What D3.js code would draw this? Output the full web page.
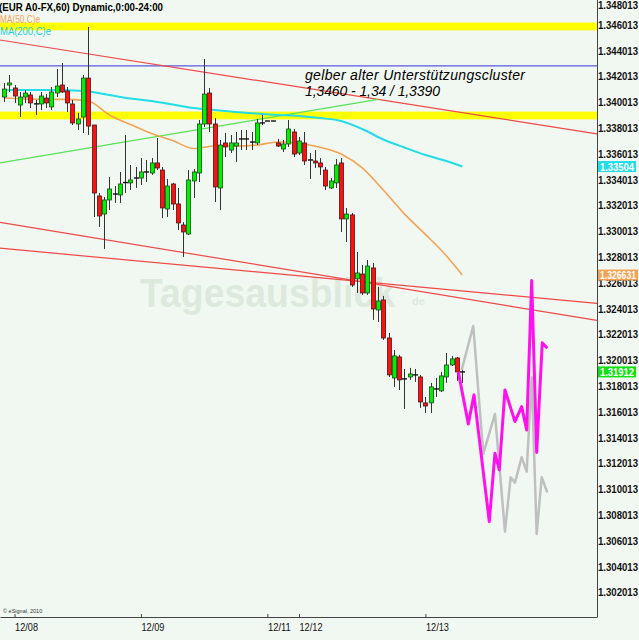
<!DOCTYPE html>
<html>
<head>
<meta charset="utf-8">
<script src="https://cdn.jsdelivr.net/npm/d3@7"></script>
<style>
  body { margin: 0; background: #f1f8f1; }
  svg { display: block; font-family: "Liberation Sans", Arial, sans-serif; }
</style>
</head>
<body>
<svg id="chart" width="639" height="640"></svg>
<script>
// hourly candles, [open, high, low, close]
const candles = [
  [1.34043,1.34152,1.34004,1.34105],[1.34136,1.34214,1.34082,1.34152],[1.34113,1.34136,1.33997,1.34051],
  [1.33981,1.34082,1.33888,1.34043],[1.34043,1.34097,1.33997,1.34074],[1.34059,1.34082,1.33958,1.33997],
  [1.33990,1.34020,1.33904,1.33990],[1.33989,1.34082,1.33942,1.34051],[1.34035,1.34066,1.33958,1.33997],
  [1.33966,1.34121,1.33942,1.34082],[1.34074,1.34260,1.34043,1.34128],[1.34136,1.34307,1.34074,1.34082],
  [1.34090,1.34121,1.33927,1.33997],[1.33989,1.34020,1.33826,1.33842],[1.33834,1.33919,1.33787,1.33873],
  [1.33888,1.34214,1.33764,1.34190],[1.34190,1.34586,1.33749,1.33818],[1.33826,1.33826,1.33113,1.33299],
  [1.33276,1.33299,1.33036,1.33121],[1.33136,1.33268,1.32865,1.33245],[1.33245,1.33423,1.33167,1.33330],
  [1.33291,1.33353,1.33222,1.33291],[1.33284,1.33462,1.33222,1.33369],[1.33380,1.33749,1.33299,1.33380],
  [1.33377,1.33516,1.33322,1.33400],[1.33415,1.33501,1.33338,1.33415],[1.33415,1.33570,1.33361,1.33462],
  [1.33462,1.33555,1.33384,1.33462],[1.33454,1.33570,1.33439,1.33532],[1.33532,1.33725,1.33477,1.33493],
  [1.33477,1.33501,1.33105,1.33183],[1.33175,1.33408,1.33113,1.33353],[1.33369,1.33377,1.33167,1.33214],
  [1.33214,1.33338,1.33012,1.33067],[1.33051,1.33074,1.32803,1.32997],[1.32981,1.33477,1.32974,1.33400],
  [1.33392,1.33485,1.33260,1.33462],[1.33454,1.33865,1.33384,1.33834],[1.33834,1.34338,1.33811,1.34066],
  [1.34074,1.34113,1.33772,1.33834],[1.33834,1.33880,1.33229,1.33346],[1.33338,1.33710,1.33167,1.33671],
  [1.33687,1.33764,1.33578,1.33656],[1.33632,1.33749,1.33609,1.33687],[1.33663,1.33772,1.33539,1.33687],
  [1.33718,1.33787,1.33632,1.33718],[1.33718,1.33787,1.33632,1.33718],[1.33694,1.33772,1.33632,1.33694],
  [1.33687,1.33873,1.33671,1.33842],[1.33842,1.33904,1.33826,1.33842],[1.33857,1.33857,1.33857,1.33857],
  [1.33857,1.33857,1.33857,1.33857],[1.33687,1.33718,1.33656,1.33663],[1.33640,1.33710,1.33617,1.33679],
  [1.33679,1.33865,1.33656,1.33795],[1.33772,1.33795,1.33578,1.33601],[1.33609,1.33733,1.33594,1.33702],
  [1.33687,1.33772,1.33516,1.33547],[1.33555,1.33609,1.33408,1.33555],[1.33547,1.33632,1.33493,1.33532],
  [1.33532,1.33570,1.33439,1.33501],[1.33477,1.33501,1.33322,1.33353],[1.33338,1.33415,1.33330,1.33392],
  [1.33377,1.33563,1.33338,1.33516],[1.33532,1.33570,1.32997,1.33098],[1.33098,1.33183,1.32919,1.33136],
  [1.33129,1.33144,1.32571,1.32586],[1.32633,1.32842,1.32524,1.32679],[1.32671,1.32741,1.32509,1.32524],
  [1.32524,1.32780,1.32509,1.32733],[1.32718,1.32757,1.32315,1.32400],[1.32392,1.32571,1.32299,1.32462],
  [1.32470,1.32501,1.32160,1.32175],[1.32175,1.32214,1.31873,1.31889],[1.31865,1.32082,1.31796,1.32036],
  [1.32028,1.32044,1.31772,1.31850],[1.31858,1.31935,1.31625,1.31858],[1.31873,1.31943,1.31850,1.31896],
  [1.31889,1.31935,1.31835,1.31889],[1.31873,1.31889,1.31633,1.31679],[1.31672,1.31718,1.31594,1.31648],
  [1.31672,1.31827,1.31594,1.31796],[1.31780,1.31865,1.31718,1.31780],[1.31765,1.31912,1.31757,1.31881],
  [1.31873,1.32059,1.31827,1.31966],[1.31966,1.32036,1.31958,1.32013],[1.32020,1.32028,1.31842,1.31912],
  [1.31912,1.31951,1.31827,1.31912]
];

// moving averages, read every 4 bars
const maIdx  = [0,4,8,12,16,20,24,28,32,36,40,44,48,52,56,60,64,68,72,76,80,84,87];
const ma50   = [1.34035,1.34028,1.34025,1.34025,1.34012,1.33904,1.33830,1.33760,1.33706,1.33644,1.33663,1.33663,
                1.33671,1.33694,1.33684,1.33653,1.33601,1.33493,1.33322,1.33137,1.32978,1.32811,1.326631];
const ma200  = [1.34097,1.34097,1.34097,1.34095,1.34086,1.34059,1.34032,1.34012,1.33985,1.33958,1.33942,1.33927,
                1.33915,1.33904,1.33896,1.33880,1.33857,1.33795,1.33714,1.33652,1.33594,1.33547,1.33504];

// projected paths drawn after the last bar
const magIdx  = [86.24,88.14,89.22,92.12,93.2,94.02,95.1,97.0,98.27,99.22,100.17,101.12,102.18,103.13];
const magVal  = [1.31914,1.31509,1.31734,1.30752,1.31282,1.31152,1.31772,1.31527,1.31643,1.31462,1.32620,1.31287,1.32139,1.32096];
const grayIdx = [86.88,89.08,90.98,93.2,95.1,96.18,97.0,98.27,99.22,100.17,101.12,102.07,103.13];
const grayVal = [1.31927,1.32268,1.31276,1.31586,1.30674,1.31096,1.31054,1.31251,1.31139,1.31871,1.30656,1.31096,1.30977];

// drawn lines: [startIdx, startPrice, endIdx, endPrice]
const redLines  = [[-0.76,1.34485,112.57,1.33757],[-0.76,1.33071,112.57,1.32311],[-0.76,1.32871,112.57,1.32443]];
const greenLine = [-0.76,1.33533,71.05,1.34025];
const blueLevel = 1.34284;
const yellowBands = [[1.3456,1.3462],[1.3387,1.3393]];

const priceTicks = [1.302013,1.304013,1.306013,1.308013,1.310013,1.312013,1.314013,1.316013,1.318013,1.320013,
                    1.322013,1.324013,1.326013,1.328013,1.330013,1.332013,1.334013,1.336013,1.338013,1.340013,
                    1.342013,1.344013,1.346013,1.348013];
const dayIdx = [2, 26, 50, 56, 80];
const dayLabels = ["12/08", "12/09", "12/11", "12/12", "12/13"];

const lastClose = 1.31912;

const svg = d3.select("#chart");
const plotW = 597, plotH = 617;

const x = d3.scaleLinear().domain([-0.76, 112.57]).range([0, plotW]);
const y = d3.scaleLinear().domain([1.302013, 1.346013]).range([592.6, 25]);

svg.append("rect").attr("width", 639).attr("height", 640).attr("fill", "#f1f8f1");

svg.append("clipPath").attr("id", "plotclip")
  .append("rect").attr("width", plotW).attr("height", plotH);

const plot = svg.append("g").attr("clip-path", "url(#plotclip)");

// watermark
const wm = plot.append("g").attr("fill", "#dde9dd");
wm.append("text").attr("x", 140).attr("y", 307)
  .attr("font-size", 40).attr("font-weight", "bold")
  .attr("textLength", 255).attr("lengthAdjust", "spacingAndGlyphs")
  .text("Tagesausblick");
wm.append("text").attr("x", 412).attr("y", 305)
  .attr("font-size", 11).attr("font-weight", "bold").text("de");

// yellow support bands
plot.selectAll(".band").data(yellowBands).join("rect")
  .attr("x", 0).attr("width", plotW)
  .attr("y", d => y(d[1])).attr("height", d => y(d[0]) - y(d[1]))
  .attr("fill", "#ffff00");

plot.append("line")
  .attr("x1", 0).attr("x2", plotW)
  .attr("y1", y(blueLevel)).attr("y2", y(blueLevel))
  .attr("stroke", "#5a5ae0").attr("stroke-width", 1.3);

plot.selectAll(".red").data(redLines).join("line")
  .attr("x1", d => x(d[0])).attr("y1", d => y(d[1]))
  .attr("x2", d => x(d[2])).attr("y2", d => y(d[3]))
  .attr("stroke", "#f04848").attr("stroke-width", 1.2);

plot.append("line")
  .attr("x1", x(greenLine[0])).attr("y1", y(greenLine[1]))
  .attr("x2", x(greenLine[2])).attr("y2", y(greenLine[3]))
  .attr("stroke", "#58e058").attr("stroke-width", 1.2);

const maLine = d3.line().x((d, i) => x(maIdx[i])).y(d => y(d)).curve(d3.curveMonotoneX);
plot.append("path").attr("d", maLine(ma200)).attr("fill", "none")
  .attr("stroke", "#22dde6").attr("stroke-width", 2);
plot.append("path").attr("d", maLine(ma50)).attr("fill", "none")
  .attr("stroke", "#f4a352").attr("stroke-width", 1.6);

// candles
const cg = plot.append("g");
candles.forEach((c, i) => {
  const [o, h, l, cl] = c;
  const cx = Math.round(x(i)) + 0.5;
  if (h > l) {
    cg.append("line").attr("x1", cx).attr("x2", cx)
      .attr("y1", y(h)).attr("y2", y(l))
      .attr("stroke", "#333").attr("stroke-width", 1);
  }
  if (Math.abs(cl - o) < 0.00004) {
    cg.append("line").attr("x1", cx - 2.5).attr("x2", cx + 2.5)
      .attr("y1", y(cl)).attr("y2", y(cl))
      .attr("stroke", "#111").attr("stroke-width", 1.4);
  } else {
    const up = cl > o;
    cg.append("rect")
      .attr("x", cx - 2).attr("width", 4)
      .attr("y", y(Math.max(o, cl))).attr("height", Math.abs(y(o) - y(cl)))
      .attr("fill", up ? "#00f000" : "#ff1010")
      .attr("stroke", up ? "#1d4a1d" : "#4a1616").attr("stroke-width", 0.8);
  }
});

// projections
const projLine = idx => d3.line().x((d, i) => x(idx[i])).y(d => y(d));
plot.append("path").attr("d", projLine(grayIdx)(grayVal)).attr("fill", "none")
  .attr("stroke", "#bfbfbf").attr("stroke-width", 2.5).attr("stroke-linejoin", "round");
plot.append("path").attr("d", projLine(magIdx)(magVal)).attr("fill", "none")
  .attr("stroke", "#ff10f0").attr("stroke-width", 3).attr("stroke-linejoin", "round");

// annotation
const note = svg.append("g").attr("font-style", "italic").attr("font-size", 14).attr("fill", "#000")
  .attr("lengthAdjust", "spacingAndGlyphs");
note.append("text").attr("x", 305).attr("y", 80).attr("textLength", 220)
  .text("gelber alter Unterstützungscluster");
note.append("text").attr("x", 305).attr("y", 96).attr("textLength", 135)
  .text("1,3460 - 1,34 / 1,3390");

// header texts
svg.append("text").attr("x", -1).attr("y", 11).attr("font-size", 10.5).attr("font-weight", "bold")
  .attr("textLength", 164).attr("lengthAdjust", "spacingAndGlyphs")
  .text("(EUR A0-FX,60) Dynamic,0:00-24:00");
svg.append("text").attr("x", 0).attr("y", 23).attr("font-size", 10.5).attr("fill", "#f4a352")
  .attr("textLength", 40).attr("lengthAdjust", "spacingAndGlyphs").text("MA(50,C)e");
svg.append("text").attr("x", 0).attr("y", 35).attr("font-size", 10.5).attr("fill", "#22d0e0")
  .attr("textLength", 51).attr("lengthAdjust", "spacingAndGlyphs").text("MA(200,C)e");

svg.append("text").attr("x", 3).attr("y", 613).attr("font-size", 5.5).attr("fill", "#333")
  .text("© eSignal, 2010");

// right price axis
const yAxis = d3.axisRight(y).tickValues(priceTicks).tickFormat(d3.format(".6f"))
  .tickSize(0).tickPadding(1);
const ya = svg.append("g").attr("transform", `translate(${plotW},0)`).call(yAxis);
ya.select(".domain").remove();
ya.selectAll("text").attr("font-size", 10).attr("font-weight", "bold")
  .attr("font-family", "'Liberation Sans', Arial, sans-serif").attr("fill", "#111")
  .attr("textLength", 40).attr("lengthAdjust", "spacingAndGlyphs");
ya.selectAll(".tick").filter(d => y(d) < 6).attr("transform", "translate(0,6)");

svg.append("line").attr("x1", plotW + 0.5).attr("x2", plotW + 0.5).attr("y1", 0).attr("y2", plotH)
  .attr("stroke", "#444").attr("stroke-width", 1);

// bottom time axis
const xAxis = d3.axisBottom(x).tickValues(dayIdx).tickFormat((d, i) => dayLabels[i])
  .tickSizeInner(-3).tickSizeOuter(0).tickPadding(6);
const xa = svg.append("g").attr("transform", `translate(0,${plotH})`).call(xAxis);
xa.select(".domain").attr("stroke", "#444");
xa.selectAll(".tick line").attr("stroke", "#444");
xa.selectAll("text").attr("text-anchor", "start").attr("font-size", 11).attr("fill", "#111")
  .attr("font-family", "'Liberation Sans', Arial, sans-serif")
  .attr("textLength", 23).attr("lengthAdjust", "spacingAndGlyphs");

// last value labels
const tags = [
  { v: ma200[ma200.length - 1], label: "1.33504", fill: "#22dde6", w: 38 },
  { v: ma50[ma50.length - 1], label: "1.326631", fill: "#f4a352", w: 40 },
  { v: lastClose, label: "1.31912", fill: "#10e010", w: 38 }
];
const tg = svg.selectAll(".tag").data(tags).join("g")
  .attr("transform", d => `translate(${plotW + 1},${y(d.v)})`);
tg.append("rect").attr("x", 0).attr("y", -5.5).attr("height", 11).attr("width", d => d.w)
  .attr("fill", d => d.fill);
tg.append("text").attr("x", d => d.w / 2).attr("y", 4).attr("text-anchor", "middle")
  .attr("font-size", 10).attr("font-weight", "bold").attr("fill", "#fff")
  .attr("textLength", d => d.w - 4).attr("lengthAdjust", "spacingAndGlyphs").text(d => d.label);
</script>
</body>
</html>
